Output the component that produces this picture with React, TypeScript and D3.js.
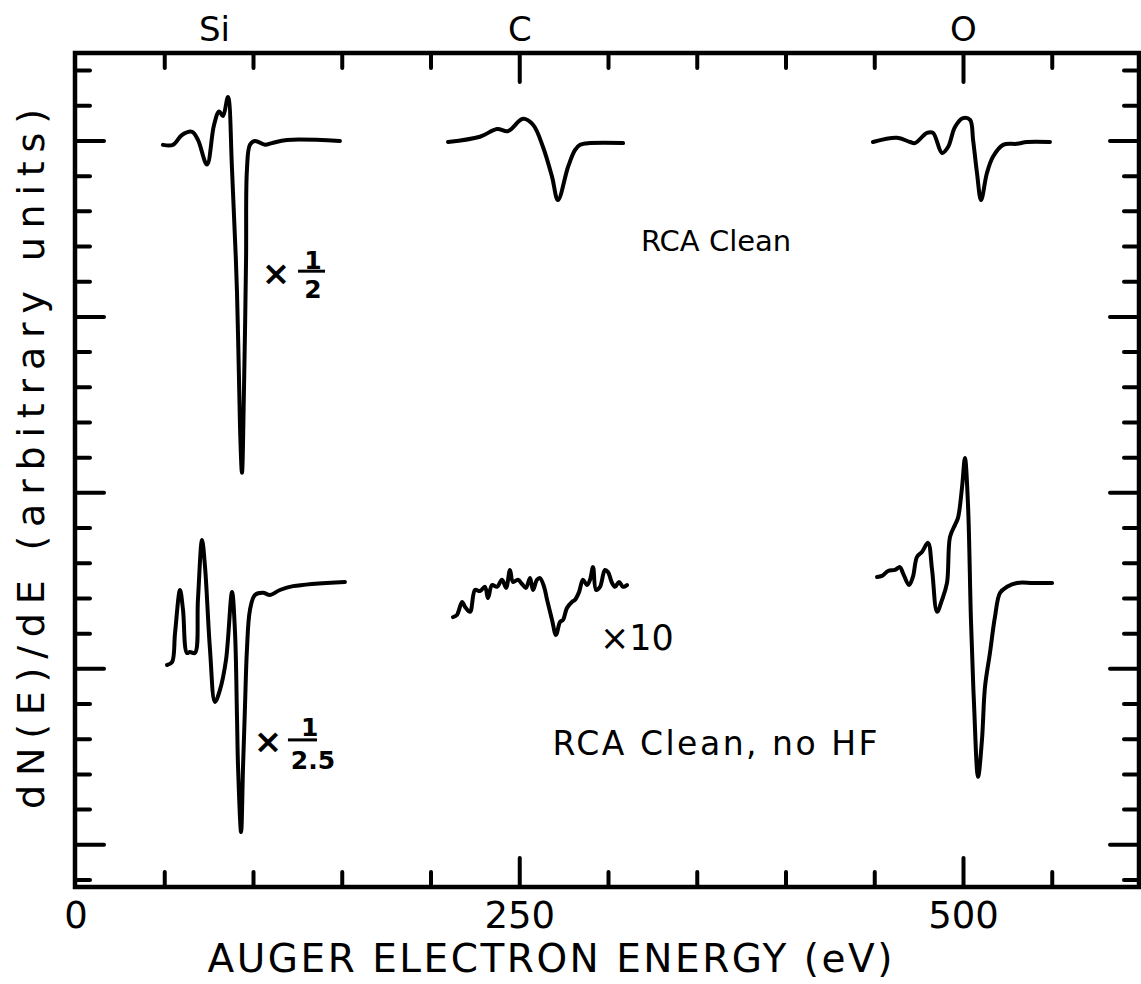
import * as d3 from 'd3';
import { useEffect, useRef } from 'react';

// [energy (eV), dN/dE (arbitrary units)]
type Pt = [number, number];

const siClean: Pt[] = [
  [49.0, 20.89], [54.6, 20.89], [59.7, 21.17], [65.4, 21.26], [68.7, 21.03], [73.8, 20.33],
  [77.7, 21.44], [80.6, 21.84], [82.8, 21.71], [85.6, 22.25], [87.9, 20.19], [90.7, 16.7],
  [92.4, 12.87], [93.5, 11.57], [94.6, 13.84], [95.8, 17.62], [96.3, 20.18], [98.0, 20.89],
  [100.8, 21.0], [106.5, 20.89], [110.4, 20.94], [118.9, 21.03], [148.7, 21.0],
];

const cClean: Pt[] = [
  [209.6, 20.97], [227.6, 21.12], [237.2, 21.34], [243.4, 21.28], [251.8, 21.63], [257.5, 21.46],
  [263.1, 20.83], [268.2, 19.98], [271.5, 19.32], [277.2, 20.26], [281.1, 20.74],
  [284.0, 20.89], [289.6, 20.94], [308.2, 20.94],
];

const oClean: Pt[] = [
  [449.0, 20.97], [462.5, 21.09], [469.9, 20.97], [472.7, 20.94], [479.4, 21.23], [482.8, 21.23],
  [487.9, 20.66], [491.3, 20.83], [495.2, 21.4], [499.7, 21.65], [503.7, 21.6], [505.4, 21.03],
  [507.6, 20.09], [509.9, 19.32], [513.2, 20.09], [516.6, 20.55], [522.3, 20.89], [530.1, 20.92],
  [535.8, 20.97], [548.7, 20.97],
];

const siNoHF: Pt[] = [
  [51.3, 6.11], [54.1, 6.19], [55.8, 7.02], [58.6, 8.24], [60.3, 7.67], [62.5, 6.45], [64.2, 6.48],
  [67.0, 6.45], [68.7, 7.96], [71.0, 9.66], [72.7, 8.89], [75.5, 6.54], [78.3, 5.06], [81.1, 5.4],
  [84.5, 6.25], [87.9, 8.18], [89.6, 7.02], [90.7, 4.63], [91.3, 3.21], [93.0, 1.36], [94.1, 3.21],
  [95.2, 4.92], [96.3, 6.54], [98.0, 7.67], [100.8, 8.1], [105.4, 8.16], [109.3, 8.1], [114.9, 8.24],
  [122.3, 8.35], [151.5, 8.47],
];

const cNoHF: Pt[] = [
  [212.4, 7.47], [214.6, 7.53], [217.5, 7.9], [219.2, 7.76], [222.0, 7.62], [224.8, 8.24],
  [227.6, 8.21], [230.4, 8.33], [232.1, 8.01], [234.4, 8.38], [237.2, 8.33], [240.0, 8.53],
  [242.3, 8.3], [244.5, 8.81], [246.2, 8.47], [249.0, 8.53], [251.3, 8.41], [253.5, 8.3],
  [255.8, 8.58], [257.5, 8.24], [259.7, 8.53], [261.4, 8.58], [263.7, 8.33], [265.4, 7.96],
  [268.2, 7.39], [270.4, 6.96], [272.7, 7.33], [274.4, 7.39], [276.6, 7.73], [279.4, 7.9],
  [281.1, 7.96], [283.4, 8.18], [285.6, 8.53], [287.9, 8.38], [289.6, 8.53], [291.3, 8.89],
  [293.0, 8.24], [295.2, 8.33], [298.0, 8.81], [299.7, 8.75], [302.0, 8.44], [303.7, 8.33],
  [305.9, 8.47], [308.2, 8.33], [310.4, 8.38],
];

const oNoHF: Pt[] = [
  [451.3, 8.61], [454.1, 8.64], [457.5, 8.78], [461.4, 8.81], [464.2, 8.89], [465.9, 8.72],
  [469.3, 8.38], [471.5, 8.61], [473.8, 9.18], [476.6, 9.32], [480.0, 9.58], [482.3, 8.81],
  [485.1, 7.62], [487.9, 7.96], [490.7, 8.44], [492.4, 9.75], [495.2, 10.09], [496.9, 10.29],
  [499.2, 11.17], [500.8, 11.99], [502.5, 10.71], [504.2, 7.39], [505.9, 5.03], [508.2, 2.93],
  [510.4, 3.98], [512.1, 5.48], [514.9, 6.45], [517.7, 7.47], [520.6, 8.16], [524.5, 8.33],
  [530.1, 8.44], [539.2, 8.44], [549.9, 8.44],
];

const spectra = [siClean, cClean, oClean, siNoHF, cNoHF, oNoHF];

const elementLabels = ['Si', 'C', 'O'];
const elementEnergies = [78, 250, 500];
const xTickLabels = [0, 250, 500];
const xTicks = d3.range(50, 600, 50);
const xMajor = [250, 500];
const yTicks = d3.range(0, 24);
const yMajor = [1, 6, 11, 16, 21];

export default function App() {
  const ref = useRef<SVGSVGElement | null>(null);

  useEffect(() => {
    if (!ref.current) return;
    const svg = d3.select(ref.current);
    svg.selectAll('*').remove();

    const width = 1141;
    const height = 984;
    const frame = { left: 75, right: 1139, top: 53, bottom: 887 };
    const font = '"DejaVu Sans", sans-serif';

    svg.attr('viewBox', `0 0 ${width} ${height}`).attr('width', width).attr('height', height);
    svg.append('rect').attr('width', width).attr('height', height).attr('fill', '#fff');

    const x = d3.scaleLinear().domain([0, 600]).range([76, 1141]);
    const y = d3.scaleLinear().domain([-0.2, 23.5]).range([frame.bottom, frame.top]);

    const ink = '#000';
    const shortTick = 15;
    const longTick = 29;

    // Frame
    svg
      .append('rect')
      .attr('x', frame.left)
      .attr('y', frame.top)
      .attr('width', frame.right - frame.left)
      .attr('height', frame.bottom - frame.top)
      .attr('fill', 'none')
      .attr('stroke', ink)
      .attr('stroke-width', 4.5);

    const ticks = svg.append('g').attr('stroke', ink).attr('stroke-width', 4).attr('stroke-linecap', 'round');

    xTicks.forEach((t) => {
      const len = xMajor.includes(t) ? longTick : shortTick;
      ticks.append('line').attr('x1', x(t)).attr('x2', x(t)).attr('y1', frame.top).attr('y2', frame.top + len);
      ticks.append('line').attr('x1', x(t)).attr('x2', x(t)).attr('y1', frame.bottom).attr('y2', frame.bottom - len);
    });
    yTicks.forEach((t) => {
      const len = yMajor.includes(t) ? longTick : shortTick;
      ticks.append('line').attr('x1', frame.left).attr('x2', frame.left + len).attr('y1', y(t)).attr('y2', y(t));
      ticks.append('line').attr('x1', frame.right).attr('x2', frame.right - len).attr('y1', y(t)).attr('y2', y(t));
    });

    // Spectra
    const line = d3
      .line<Pt>()
      .x((d) => x(d[0]))
      .y((d) => y(d[1]))
      .curve(d3.curveCatmullRom.alpha(0.5));

    svg
      .append('g')
      .selectAll('path')
      .data(spectra)
      .enter()
      .append('path')
      .attr('d', (d) => line(d) || '')
      .attr('fill', 'none')
      .attr('stroke', ink)
      .attr('stroke-width', 4)
      .attr('stroke-linejoin', 'round')
      .attr('stroke-linecap', 'round');

    const text = (tx: number, ty: number, s: string, size: number) =>
      svg
        .append('text')
        .attr('x', tx)
        .attr('y', ty)
        .attr('text-anchor', 'middle')
        .attr('font-family', font)
        .attr('font-size', size)
        .attr('fill', ink)
        .text(s);

    // Element labels above the frame
    elementLabels.forEach((s, i) => text(x(elementEnergies[i]), 41, s, 34));

    // x tick labels
    xTickLabels.forEach((t) => text(x(t), 928, String(t), 37));

    // Axis titles
    text(550, 972, 'AUGER ELECTRON ENERGY (eV)', 39)
      .attr('textLength', 685)
      .attr('lengthAdjust', 'spacing');
    text(0, 0, 'dN(E)/dE  (arbitrary units)', 38)
      .attr('transform', 'translate(44, 459) rotate(-90)')
      .attr('textLength', 700)
      .attr('lengthAdjust', 'spacing');

    // Sample labels
    text(x(360.6), y(18.19) + 11, 'RCA Clean', 29);
    text(x(360), y(3.89) + 12, 'RCA Clean, no HF', 33).attr('textLength', 325).attr('lengthAdjust', 'spacing');

    // Scale factors
    const frac = (cx: number, cy: number, s: string) =>
      text(x(cx), y(cy), s, 25).attr('dominant-baseline', 'central').attr('font-weight', 'bold');
    const bar = (a: number, b: number, v: number) =>
      svg
        .append('line')
        .attr('x1', x(a))
        .attr('x2', x(b))
        .attr('y1', y(v))
        .attr('y2', y(v))
        .attr('stroke', ink)
        .attr('stroke-width', 3);

    frac(112.7, 17.25, '×').attr('font-size', 34);
    frac(133.5, 17.6, '1');
    bar(125.1, 140.3, 17.3);
    frac(133.5, 16.78, '2');

    frac(108.2, 3.95, '×').attr('font-size', 34);
    frac(131.6, 4.32, '1');
    bar(119.4, 135.8, 3.98);
    frac(133.5, 3.4, '2.5');

    text(x(295.2), y(6.88), '×10', 35).attr('text-anchor', 'start').attr('dominant-baseline', 'central');
  }, []);

  return (
    <svg
      ref={ref}
      style={{ position: 'absolute', left: 0, top: 0, display: 'block' }}
      role="img"
      aria-label="Auger electron spectra"
    />
  );
}
